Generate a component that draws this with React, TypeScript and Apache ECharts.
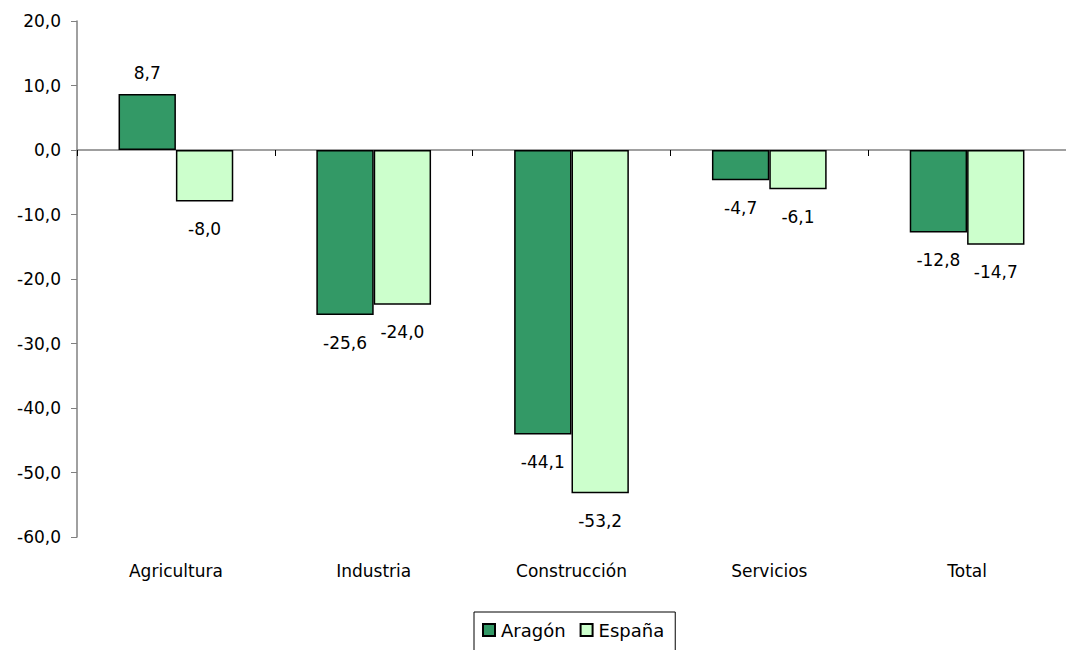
import React, { useEffect, useRef } from "react";
import * as echarts from "echarts";

const categories = ["Agricultura", "Industria", "Construcción", "Servicios", "Total"];
const aragon = [8.7, -25.6, -44.1, -4.7, -12.8];
const espana = [-8.0, -24.0, -53.2, -6.1, -14.7];
const seriesNames = ["Aragón", "España"];

const fmt = (v: number) => v.toFixed(1).replace(".", ",");
const FONT = "'DejaVu Sans', sans-serif";
const FS = 17;

const toData = (vals: number[]) =>
  vals.map((v) => ({
    value: v,
    label: v >= 0 ? { position: "top", distance: 12 } : { position: "bottom", distance: 19 },
  }));

export default function App() {
  const ref = useRef<HTMLDivElement>(null);
  useEffect(() => {
    const chart = echarts.init(ref.current!, null, { renderer: "svg" });
    const labelOpt = {
      show: true,
      formatter: (p: any) => fmt(p.value),
      fontSize: FS,
      fontFamily: FONT,
      color: "#000",
    };
    chart.setOption({
      animation: false,
      backgroundColor: "#fff",
      textStyle: { fontFamily: FONT },
      grid: { left: 77, top: 21, width: 1000, height: 516, containLabel: false },
      xAxis: [
        {
          type: "category",
          data: categories,
          axisLine: { onZero: true, lineStyle: { color: "#808080", width: 1.5 } },
          axisTick: { show: true, length: 6, lineStyle: { color: "#000" } },
          axisLabel: { show: false },
        },
        {
          type: "category",
          data: categories,
          position: "bottom",
          axisLine: { show: false, onZero: false },
          axisTick: { show: false },
          axisLabel: { show: true, fontSize: FS, fontFamily: FONT, color: "#000", margin: 25 },
        },
      ],
      yAxis: {
        type: "value",
        min: -60,
        max: 20,
        interval: 10,
        axisLine: { show: true, lineStyle: { color: "#808080", width: 1.5 } },
        axisTick: { show: true, length: 6, lineStyle: { color: "#808080" } },
        splitLine: { show: false },
        axisLabel: { formatter: (v: number) => fmt(v), fontSize: FS, fontFamily: FONT, color: "#000", margin: 16 },
      },
      legend: {
        data: seriesNames,
        left: 474,
        top: 612,
        icon: "rect",
        itemWidth: 12,
        itemHeight: 12,
        itemGap: 14,
        padding: [9, 11, 14, 8],
        borderColor: "#000",
        borderWidth: 1,
        textStyle: { fontSize: 18, fontFamily: FONT, color: "#000", padding: [0, 0, 0, 1] },
      },
      series: [
        {
          name: seriesNames[0],
          type: "bar",
          data: toData(aragon),
          barGap: "0%",
          barCategoryGap: "42%",
          itemStyle: { color: "#339966", borderColor: "#000", borderWidth: 1.5 },
          label: labelOpt,
        },
        {
          name: seriesNames[1],
          type: "bar",
          data: toData(espana),
          itemStyle: { color: "#CCFFCC", borderColor: "#000", borderWidth: 1.5 },
          label: labelOpt,
        },
      ],
    });
    return () => chart.dispose();
  }, []);
  return (
    <div
      ref={ref}
      style={{ position: "absolute", left: 0, top: 0, width: 1066, height: 650, background: "#fff" }}
    />
  );
}
